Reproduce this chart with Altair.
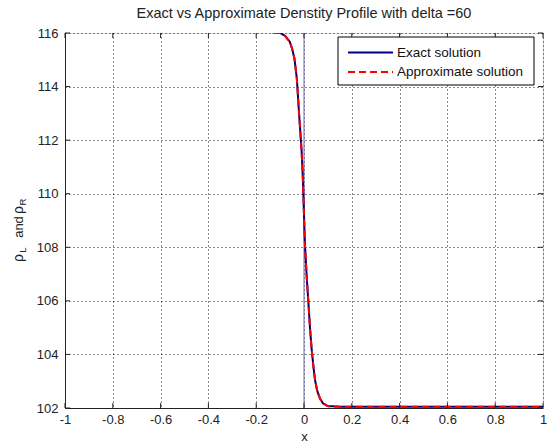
import altair as alt
import pandas as pd

# Data
x_vals = [-1.0, -0.5, -0.15, -0.10, -0.08, -0.06, -0.05, -0.04, -0.03, -0.02, -0.01,
          -0.005, 0.0, 0.004, 0.012, 0.018, 0.025, 0.032, 0.04, 0.046, 0.055, 0.067,
          0.08, 0.10, 0.15, 0.5, 1.0]
rho_exact = [116.05, 116.05, 116.05, 116.0, 115.9, 115.68, 115.42, 115.05, 114.3, 112.9, 111.6,
             110.6, 109.2, 108.1, 106.8, 106.0, 105.0, 104.2, 103.5, 103.05, 102.65, 102.35,
             102.17, 102.07, 102.05, 102.05, 102.05]
rho_approx = list(rho_exact)

x_ticks = [-1, -0.8, -0.6, -0.4, -0.2, 0, 0.2, 0.4, 0.6, 0.8, 1]
y_ticks = [102, 104, 106, 108, 110, 112, 114, 116]
series = ["Exact solution", "Approximate solution"]
colors = ["#00007F", "#FF0000"]
dashes = [[1, 0], [7, 4]]

rows = []
for s, vals in zip(series, [rho_exact, rho_approx]):
    for xv, yv in zip(x_vals, vals):
        rows.append({"x": xv, "rho": yv, "series": s})
df = pd.DataFrame(rows)

W, H = 478, 375
FONT = "Liberation Sans"
INK = "#222222"

xscale = alt.Scale(domain=[-1, 1], nice=False, zero=False)
yscale = alt.Scale(domain=[102, 116], nice=False, zero=False)

xaxis = alt.Axis(values=x_ticks, title="x", grid=True, gridColor="#000000", gridDash=[1, 3],
                 gridOpacity=0.9, tickSize=0, labelPadding=5, labelFontSize=13, labelFont=FONT,
                 labelColor=INK, titleFont=FONT, titleFontSize=13, titleFontWeight="normal",
                 titlePadding=4, titleColor=INK, domainColor=INK,
                 labelExpr="'' + datum.value", labelFlush=False)
yaxis = alt.Axis(values=y_ticks, title=None, grid=True, gridColor="#000000", gridDash=[1, 3],
                 gridOpacity=0.9, tickSize=0, labelPadding=7, labelFontSize=13, labelFont=FONT,
                 labelColor=INK, domainColor=INK, labelFlush=False)

lines = alt.Chart(df).mark_line(strokeWidth=2, clip=True).encode(
    x=alt.X("x:Q", scale=xscale, axis=xaxis),
    y=alt.Y("rho:Q", scale=yscale, axis=yaxis),
    color=alt.Color("series:N", scale=alt.Scale(domain=series, range=colors), legend=None),
    strokeDash=alt.StrokeDash("series:N", scale=alt.Scale(domain=series, range=dashes),
                              legend=None),
    order=alt.Order("x:Q"),
    detail="series:N",
)

zero_df = pd.DataFrame({"x0": [0]})
vline = alt.Chart(zero_df).mark_rule(color="#6a6ab0", strokeWidth=1).encode(
    x=alt.X("x0:Q", scale=xscale)
)

# inward tick marks on all four sides
xt_df = pd.DataFrame({"t": x_ticks})
yt_df = pd.DataFrame({"t": y_ticks})
tick_b = alt.Chart(xt_df).mark_rule(color=INK).encode(
    x=alt.X("t:Q", scale=xscale), y=alt.value(H), y2=alt.value(H - 5))
tick_t = alt.Chart(xt_df).mark_rule(color=INK).encode(
    x=alt.X("t:Q", scale=xscale), y=alt.value(0), y2=alt.value(5))
tick_l = alt.Chart(yt_df).mark_rule(color=INK).encode(
    y=alt.Y("t:Q", scale=yscale), x=alt.value(0), x2=alt.value(5))
tick_r = alt.Chart(yt_df).mark_rule(color=INK).encode(
    y=alt.Y("t:Q", scale=yscale), x=alt.value(W), x2=alt.value(W - 5))

# legend (drawn box, sample lines and labels)
one = pd.DataFrame({"k": [0]})
leg_box = alt.Chart(one).mark_rect(fill="#ffffff", stroke="#000000", strokeWidth=1).encode(
    x=alt.value(273), x2=alt.value(469), y=alt.value(4), y2=alt.value(52))
leg_parts = [leg_box]
for i, (s, c, d) in enumerate(zip(series, colors, dashes)):
    yy = 19.5 + i * 19.5
    leg_parts.append(alt.Chart(one).mark_rule(color=c, strokeWidth=2, strokeDash=d).encode(
        x=alt.value(283), x2=alt.value(328), y=alt.value(yy)))
    leg_parts.append(alt.Chart(one).mark_text(text=s, font=FONT, fontSize=13.5, color="#111111",
                                              align="left", baseline="middle").encode(
        x=alt.value(332), y=alt.value(yy)))

# y-axis title with subscripts: "ρL and ρR"
def ytxt(txt, yy, xx, size):
    return alt.Chart(one).mark_text(text=txt, angle=270, font=FONT, fontSize=size,
                                    color=INK, align="center", baseline="middle").encode(
        x=alt.value(xx), y=alt.value(yy))

ylabel = (ytxt("ρ", 225, -46, 14) + ytxt("L", 217, -42, 9.5) + ytxt("and", 194, -46, 13)
          + ytxt("ρ", 177, -46, 14) + ytxt("R", 169, -42, 9.5))

chart = alt.layer(vline, lines, tick_b, tick_t, tick_l, tick_r, *leg_parts, ylabel).properties(
    width=W, height=H,
    title=alt.Title("Exact vs Approximate Denstity Profile with delta =60", font=FONT,
                    fontSize=14.5, fontWeight="normal", color=INK, offset=6),
    autosize=alt.AutoSizeParams(type="none"),
    padding={"left": 65, "top": 33, "right": 10, "bottom": 35},
).configure_view(stroke=INK, strokeWidth=1).configure(background="#ffffff")

chart.save("out.html", embed_options={"renderer": "svg", "actions": False})
